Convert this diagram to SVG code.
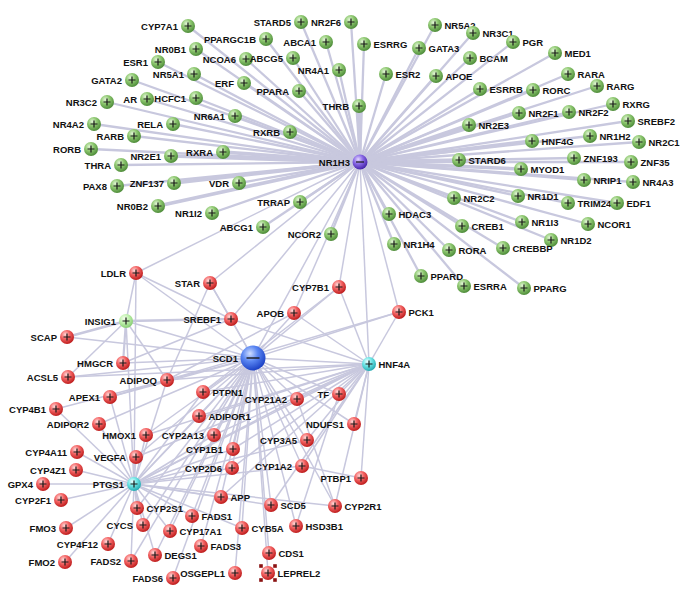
<svg xmlns="http://www.w3.org/2000/svg" width="683" height="595" viewBox="0 0 683 595">
<defs>
<radialGradient id="gG" cx="0.38" cy="0.32" r="0.7"><stop offset="0" stop-color="#e2f6d6"/><stop offset="0.45" stop-color="#8ec870"/><stop offset="1" stop-color="#4c8a38"/></radialGradient>
<radialGradient id="gR" cx="0.38" cy="0.32" r="0.7"><stop offset="0" stop-color="#ffd8d8"/><stop offset="0.45" stop-color="#f46464"/><stop offset="1" stop-color="#bc1a1a"/></radialGradient>
<radialGradient id="gC" cx="0.38" cy="0.32" r="0.7"><stop offset="0" stop-color="#eaffff"/><stop offset="0.45" stop-color="#6fe6e6"/><stop offset="1" stop-color="#22a9b0"/></radialGradient>
<radialGradient id="gL" cx="0.38" cy="0.32" r="0.7"><stop offset="0" stop-color="#f6fff0"/><stop offset="0.45" stop-color="#c2f2b0"/><stop offset="1" stop-color="#86cc72"/></radialGradient>
<radialGradient id="gP" cx="0.38" cy="0.32" r="0.7"><stop offset="0" stop-color="#e2d6ff"/><stop offset="0.45" stop-color="#8a6ae6"/><stop offset="1" stop-color="#4422a8"/></radialGradient>
<radialGradient id="gB" cx="0.38" cy="0.32" r="0.7"><stop offset="0" stop-color="#d0deff"/><stop offset="0.45" stop-color="#5a86f2"/><stop offset="1" stop-color="#1a3fc4"/></radialGradient>
<path id="plus" d="M-3.5,0H3.5M0,-3.5V3.5" stroke="#1a1a1a" stroke-width="1.2" fill="none"/>
<path id="minus" d="M-4,0H4" stroke="#1a1a1a" stroke-width="1.2" fill="none"/>
<path id="minusB" d="M-6.5,0H6.5" stroke="#1a1a1a" stroke-width="1.4" fill="none"/>
<rect id="hdl" x="-1.8" y="-1.8" width="3.6" height="3.6" fill="#8a1212"/>
</defs>
<style>
.e line{stroke:#c8c8de;stroke-width:1.5}
.eg line{stroke:#c8c8de;stroke-width:2.3}
.eg line.w{stroke-width:3.6}
.g{fill:url(#gG)}.r{fill:url(#gR)}.c{fill:url(#gC)}.lg{fill:url(#gL)}.p{fill:url(#gP)}.b{fill:url(#gB)}
text{font-family:"Liberation Sans",Arial,sans-serif;font-weight:bold;font-size:9.5px;fill:#111}
.l{text-anchor:end}
</style>
<rect width="683" height="595" fill="#ffffff"/>
<g id="connectors">
<g class="eg">
<line x1="188" y1="26" x2="360" y2="162"/><line x1="266" y1="39" x2="360" y2="162"/><line x1="196" y1="49" x2="360" y2="162"/><line x1="246" y1="59" x2="360" y2="162"/><line x1="293" y1="58" x2="360" y2="162"/><line x1="301" y1="22" x2="360" y2="162"/><line x1="351" y1="22" x2="360" y2="162"/><line x1="326" y1="42" x2="360" y2="162"/><line x1="364" y1="44" x2="360" y2="162"/><line x1="339" y1="70" x2="360" y2="162"/><line x1="386" y1="74" x2="360" y2="162"/><line x1="419" y1="48" x2="360" y2="162"/><line x1="435" y1="25" x2="360" y2="162"/><line x1="436" y1="76" x2="360" y2="162"/><line x1="299" y1="91" x2="360" y2="162"/><line class="w" x1="359" y1="106" x2="360" y2="162"/><line x1="244" y1="83" x2="360" y2="162"/><line x1="194" y1="74" x2="360" y2="162"/><line x1="158" y1="62" x2="360" y2="162"/><line x1="132" y1="80" x2="360" y2="162"/><line x1="147" y1="99" x2="360" y2="162"/><line x1="196" y1="98" x2="360" y2="162"/><line x1="107" y1="102" x2="360" y2="162"/><line x1="235" y1="116" x2="360" y2="162"/><line x1="94" y1="124" x2="360" y2="162"/><line x1="173" y1="124" x2="360" y2="162"/><line x1="290" y1="132" x2="360" y2="162"/><line x1="134" y1="136" x2="360" y2="162"/><line x1="91" y1="149" x2="360" y2="162"/><line class="w" x1="171" y1="156" x2="360" y2="162"/><line class="w" x1="223" y1="152" x2="360" y2="162"/><line x1="121" y1="165" x2="360" y2="162"/><line class="w" x1="174" y1="183" x2="360" y2="162"/><line x1="239" y1="183" x2="360" y2="162"/><line x1="117" y1="186" x2="360" y2="162"/><line class="w" x1="158" y1="206" x2="360" y2="162"/><line x1="212" y1="213" x2="360" y2="162"/><line x1="300" y1="202" x2="360" y2="162"/><line x1="263" y1="227" x2="360" y2="162"/><line x1="331" y1="234" x2="360" y2="162"/><line x1="389" y1="214" x2="360" y2="162"/><line x1="394" y1="244" x2="360" y2="162"/><line x1="473" y1="33" x2="360" y2="162"/><line x1="513" y1="42" x2="360" y2="162"/><line x1="470" y1="58" x2="360" y2="162"/><line x1="555" y1="53" x2="360" y2="162"/><line x1="568" y1="74" x2="360" y2="162"/><line x1="480" y1="89" x2="360" y2="162"/><line x1="533" y1="90" x2="360" y2="162"/><line x1="597" y1="86" x2="360" y2="162"/><line x1="613" y1="104" x2="360" y2="162"/><line x1="519" y1="113" x2="360" y2="162"/><line x1="569" y1="112" x2="360" y2="162"/><line x1="628" y1="121" x2="360" y2="162"/><line class="w" x1="469" y1="125" x2="360" y2="162"/><line class="w" x1="532" y1="141" x2="360" y2="162"/><line x1="590" y1="136" x2="360" y2="162"/><line x1="639" y1="142" x2="360" y2="162"/><line class="w" x1="459" y1="160" x2="360" y2="162"/><line x1="574" y1="158" x2="360" y2="162"/><line x1="631" y1="162" x2="360" y2="162"/><line class="w" x1="521" y1="169" x2="360" y2="162"/><line x1="584" y1="180" x2="360" y2="162"/><line x1="633" y1="182" x2="360" y2="162"/><line x1="454" y1="198" x2="360" y2="162"/><line x1="518" y1="196" x2="360" y2="162"/><line x1="568" y1="203" x2="360" y2="162"/><line x1="617" y1="203" x2="360" y2="162"/><line x1="462" y1="226" x2="360" y2="162"/><line x1="522" y1="222" x2="360" y2="162"/><line x1="588" y1="224" x2="360" y2="162"/><line x1="551" y1="240" x2="360" y2="162"/><line x1="449" y1="250" x2="360" y2="162"/><line x1="503" y1="248" x2="360" y2="162"/><line x1="421" y1="276" x2="360" y2="162"/><line x1="464" y1="286" x2="360" y2="162"/><line x1="524" y1="288" x2="360" y2="162"/>
</g>
<g class="e">
<line x1="136" y1="273" x2="360" y2="162"/><line x1="210" y1="283" x2="360" y2="162"/><line x1="231" y1="319" x2="360" y2="162"/><line x1="253" y1="358" x2="360" y2="162"/><line x1="294" y1="313" x2="360" y2="162"/><line x1="339" y1="287" x2="360" y2="162"/><line x1="369" y1="364" x2="360" y2="162"/><line x1="399" y1="312" x2="360" y2="162"/>
<line x1="253" y1="358" x2="136" y2="273"/><line x1="253" y1="358" x2="210" y2="283"/><line x1="253" y1="358" x2="231" y2="319"/><line x1="253" y1="358" x2="126" y2="321"/><line x1="253" y1="358" x2="67" y2="337"/><line x1="253" y1="358" x2="123" y2="363"/><line x1="253" y1="358" x2="68" y2="377"/><line x1="253" y1="358" x2="167" y2="380"/><line x1="253" y1="358" x2="203" y2="392"/><line x1="253" y1="358" x2="110" y2="397"/><line x1="253" y1="358" x2="99" y2="424"/><line x1="253" y1="358" x2="146" y2="435"/><line x1="253" y1="358" x2="136" y2="457"/><line x1="253" y1="358" x2="199" y2="416"/><line x1="253" y1="358" x2="214" y2="435"/><line x1="253" y1="358" x2="233" y2="449"/><line x1="253" y1="358" x2="232" y2="468"/><line x1="253" y1="358" x2="297" y2="399"/><line x1="253" y1="358" x2="339" y2="394"/><line x1="253" y1="358" x2="307" y2="440"/><line x1="253" y1="358" x2="302" y2="466"/><line x1="253" y1="358" x2="354" y2="424"/><line x1="253" y1="358" x2="221" y2="497"/><line x1="253" y1="358" x2="271" y2="505"/><line x1="253" y1="358" x2="242" y2="528"/><line x1="253" y1="358" x2="296" y2="526"/><line x1="253" y1="358" x2="269" y2="553"/><line x1="253" y1="358" x2="268" y2="573"/><line x1="253" y1="358" x2="192" y2="516"/><line x1="253" y1="358" x2="131" y2="561"/><line x1="253" y1="358" x2="201" y2="546"/><line x1="253" y1="358" x2="173" y2="578"/><line x1="253" y1="358" x2="155" y2="555"/><line x1="253" y1="358" x2="235" y2="573"/><line x1="253" y1="358" x2="170" y2="531"/><line x1="253" y1="358" x2="143" y2="525"/><line x1="253" y1="358" x2="137" y2="508"/><line x1="253" y1="358" x2="369" y2="364"/><line x1="253" y1="358" x2="294" y2="313"/><line x1="253" y1="358" x2="339" y2="287"/><line x1="253" y1="358" x2="134" y2="484"/><line x1="253" y1="358" x2="335" y2="506"/><line x1="253" y1="358" x2="399" y2="312"/>
<line x1="369" y1="364" x2="294" y2="313"/><line x1="369" y1="364" x2="339" y2="287"/><line x1="369" y1="364" x2="399" y2="312"/><line x1="369" y1="364" x2="231" y2="319"/><line x1="369" y1="364" x2="339" y2="394"/><line x1="369" y1="364" x2="297" y2="399"/><line x1="369" y1="364" x2="354" y2="424"/><line x1="369" y1="364" x2="307" y2="440"/><line x1="369" y1="364" x2="302" y2="466"/><line x1="369" y1="364" x2="361" y2="478"/><line x1="369" y1="364" x2="167" y2="380"/><line x1="369" y1="364" x2="203" y2="392"/><line x1="369" y1="364" x2="199" y2="416"/><line x1="369" y1="364" x2="214" y2="435"/><line x1="369" y1="364" x2="233" y2="449"/><line x1="369" y1="364" x2="232" y2="468"/><line x1="369" y1="364" x2="221" y2="497"/><line x1="369" y1="364" x2="134" y2="484"/><line x1="369" y1="364" x2="136" y2="457"/><line x1="369" y1="364" x2="146" y2="435"/><line x1="369" y1="364" x2="335" y2="506"/><line x1="369" y1="364" x2="271" y2="505"/><line x1="369" y1="364" x2="68" y2="377"/>
<line x1="134" y1="484" x2="136" y2="273"/><line x1="134" y1="484" x2="126" y2="321"/><line x1="134" y1="484" x2="56" y2="409"/><line x1="134" y1="484" x2="99" y2="424"/><line x1="134" y1="484" x2="110" y2="397"/><line x1="134" y1="484" x2="146" y2="435"/><line x1="134" y1="484" x2="77" y2="452"/><line x1="134" y1="484" x2="136" y2="457"/><line x1="134" y1="484" x2="76" y2="470"/><line x1="134" y1="484" x2="43" y2="484"/><line x1="134" y1="484" x2="61" y2="500"/><line x1="134" y1="484" x2="66" y2="528"/><line x1="134" y1="484" x2="65" y2="562"/><line x1="134" y1="484" x2="108" y2="544"/><line x1="134" y1="484" x2="143" y2="525"/><line x1="134" y1="484" x2="137" y2="508"/><line x1="134" y1="484" x2="192" y2="516"/><line x1="134" y1="484" x2="170" y2="531"/><line x1="134" y1="484" x2="131" y2="561"/><line x1="134" y1="484" x2="167" y2="380"/><line x1="134" y1="484" x2="233" y2="449"/><line x1="134" y1="484" x2="232" y2="468"/><line x1="134" y1="484" x2="214" y2="435"/><line x1="134" y1="484" x2="302" y2="466"/><line x1="134" y1="484" x2="307" y2="440"/><line x1="134" y1="484" x2="297" y2="399"/><line x1="134" y1="484" x2="335" y2="506"/><line x1="134" y1="484" x2="271" y2="505"/><line x1="134" y1="484" x2="221" y2="497"/><line x1="134" y1="484" x2="242" y2="528"/><line x1="134" y1="484" x2="203" y2="392"/><line x1="134" y1="484" x2="199" y2="416"/><line x1="134" y1="484" x2="155" y2="555"/>
<line x1="126" y1="321" x2="136" y2="273"/><line x1="126" y1="321" x2="67" y2="337" style="stroke-width:2.6"/><line x1="126" y1="321" x2="123" y2="363" style="stroke-width:2.2"/><line x1="126" y1="321" x2="231" y2="319" style="stroke-width:2.6"/><line x1="126" y1="321" x2="68" y2="377"/><line x1="126" y1="321" x2="167" y2="380"/>
<line x1="210" y1="283" x2="231" y2="319"/><line x1="210" y1="283" x2="167" y2="380"/><line x1="136" y1="273" x2="231" y2="319"/><line x1="231" y1="319" x2="123" y2="363"/><line x1="56" y1="409" x2="167" y2="380"/><line x1="110" y1="397" x2="167" y2="380"/><line x1="294" y1="313" x2="167" y2="380"/><line x1="339" y1="287" x2="203" y2="392"/><line x1="399" y1="312" x2="167" y2="380"/><line x1="297" y1="399" x2="335" y2="506"/><line x1="339" y1="394" x2="296" y2="526"/><line x1="361" y1="478" x2="302" y2="466"/>
</g>
</g>
<g id="nodes">
<g id="n-CYP7A1"><circle class="g" cx="188" cy="26" r="7"/><use href="#plus" x="188" y="26"/><text class="l" x="178" y="29.5">CYP7A1</text></g>
<g id="n-PPARGC1B"><circle class="g" cx="266" cy="39" r="7"/><use href="#plus" x="266" y="39"/><text class="l" x="256" y="42.5">PPARGC1B</text></g>
<g id="n-NR0B1"><circle class="g" cx="196" cy="49" r="7"/><use href="#plus" x="196" y="49"/><text class="l" x="186" y="52.5">NR0B1</text></g>
<g id="n-NCOA6"><circle class="g" cx="246" cy="59" r="7"/><use href="#plus" x="246" y="59"/><text class="l" x="236" y="62.5">NCOA6</text></g>
<g id="n-ABCG5"><circle class="g" cx="293" cy="58" r="7"/><use href="#plus" x="293" y="58"/><text class="l" x="283" y="61.5">ABCG5</text></g>
<g id="n-STARD5"><circle class="g" cx="301" cy="22" r="7"/><use href="#plus" x="301" y="22"/><text class="l" x="291" y="25.5">STARD5</text></g>
<g id="n-NR2F6"><circle class="g" cx="351" cy="22" r="7"/><use href="#plus" x="351" y="22"/><text class="l" x="341" y="25.5">NR2F6</text></g>
<g id="n-ABCA1"><circle class="g" cx="326" cy="42" r="7"/><use href="#plus" x="326" y="42"/><text class="l" x="316" y="45.5">ABCA1</text></g>
<g id="n-ESRRG"><circle class="g" cx="364" cy="44" r="7"/><use href="#plus" x="364" y="44"/><text x="373.5" y="47.5">ESRRG</text></g>
<g id="n-NR4A1"><circle class="g" cx="339" cy="70" r="7"/><use href="#plus" x="339" y="70"/><text class="l" x="329" y="73.5">NR4A1</text></g>
<g id="n-ESR2"><circle class="g" cx="386" cy="74" r="7"/><use href="#plus" x="386" y="74"/><text x="395.5" y="77.5">ESR2</text></g>
<g id="n-GATA3"><circle class="g" cx="419" cy="48" r="7"/><use href="#plus" x="419" y="48"/><text x="428.5" y="51.5">GATA3</text></g>
<g id="n-NR5A2"><circle class="g" cx="435" cy="25" r="7"/><use href="#plus" x="435" y="25"/><text x="444.5" y="28.5">NR5A2</text></g>
<g id="n-APOE"><circle class="g" cx="436" cy="76" r="7"/><use href="#plus" x="436" y="76"/><text x="445.5" y="79.5">APOE</text></g>
<g id="n-PPARA"><circle class="g" cx="299" cy="91" r="7"/><use href="#plus" x="299" y="91"/><text class="l" x="289" y="94.5">PPARA</text></g>
<g id="n-THRB"><circle class="g" cx="359" cy="106" r="7"/><use href="#plus" x="359" y="106"/><text class="l" x="349" y="109.5">THRB</text></g>
<g id="n-ERF"><circle class="g" cx="244" cy="83" r="7"/><use href="#plus" x="244" y="83"/><text class="l" x="234" y="86.5">ERF</text></g>
<g id="n-NR5A1"><circle class="g" cx="194" cy="74" r="7"/><use href="#plus" x="194" y="74"/><text class="l" x="184" y="77.5">NR5A1</text></g>
<g id="n-ESR1"><circle class="g" cx="158" cy="62" r="7"/><use href="#plus" x="158" y="62"/><text class="l" x="148" y="65.5">ESR1</text></g>
<g id="n-GATA2"><circle class="g" cx="132" cy="80" r="7"/><use href="#plus" x="132" y="80"/><text class="l" x="122" y="83.5">GATA2</text></g>
<g id="n-AR"><circle class="g" cx="147" cy="99" r="7"/><use href="#plus" x="147" y="99"/><text class="l" x="137" y="102.5">AR</text></g>
<g id="n-HCFC1"><circle class="g" cx="196" cy="98" r="7"/><use href="#plus" x="196" y="98"/><text class="l" x="186" y="101.5">HCFC1</text></g>
<g id="n-NR3C2"><circle class="g" cx="107" cy="102" r="7"/><use href="#plus" x="107" y="102"/><text class="l" x="97" y="105.5">NR3C2</text></g>
<g id="n-NR6A1"><circle class="g" cx="235" cy="116" r="7"/><use href="#plus" x="235" y="116"/><text class="l" x="225" y="119.5">NR6A1</text></g>
<g id="n-NR4A2"><circle class="g" cx="94" cy="124" r="7"/><use href="#plus" x="94" y="124"/><text class="l" x="84" y="127.5">NR4A2</text></g>
<g id="n-RELA"><circle class="g" cx="173" cy="124" r="7"/><use href="#plus" x="173" y="124"/><text class="l" x="163" y="127.5">RELA</text></g>
<g id="n-RXRB"><circle class="g" cx="290" cy="132" r="7"/><use href="#plus" x="290" y="132"/><text class="l" x="280" y="135.5">RXRB</text></g>
<g id="n-RARB"><circle class="g" cx="134" cy="136" r="7"/><use href="#plus" x="134" y="136"/><text class="l" x="124" y="139.5">RARB</text></g>
<g id="n-RORB"><circle class="g" cx="91" cy="149" r="7"/><use href="#plus" x="91" y="149"/><text class="l" x="81" y="152.5">RORB</text></g>
<g id="n-NR2E1"><circle class="g" cx="171" cy="156" r="7"/><use href="#plus" x="171" y="156"/><text class="l" x="161" y="159.5">NR2E1</text></g>
<g id="n-RXRA"><circle class="g" cx="223" cy="152" r="7"/><use href="#plus" x="223" y="152"/><text class="l" x="213" y="155.5">RXRA</text></g>
<g id="n-THRA"><circle class="g" cx="121" cy="165" r="7"/><use href="#plus" x="121" y="165"/><text class="l" x="111" y="168.5">THRA</text></g>
<g id="n-ZNF137"><circle class="g" cx="174" cy="183" r="7"/><use href="#plus" x="174" y="183"/><text class="l" x="164" y="186.5">ZNF137</text></g>
<g id="n-VDR"><circle class="g" cx="239" cy="183" r="7"/><use href="#plus" x="239" y="183"/><text class="l" x="229" y="186.5">VDR</text></g>
<g id="n-PAX8"><circle class="g" cx="117" cy="186" r="7"/><use href="#plus" x="117" y="186"/><text class="l" x="107" y="189.5">PAX8</text></g>
<g id="n-NR0B2"><circle class="g" cx="158" cy="206" r="7"/><use href="#plus" x="158" y="206"/><text class="l" x="148" y="209.5">NR0B2</text></g>
<g id="n-NR1I2"><circle class="g" cx="212" cy="213" r="7"/><use href="#plus" x="212" y="213"/><text class="l" x="202" y="216.5">NR1I2</text></g>
<g id="n-TRRAP"><circle class="g" cx="300" cy="202" r="7"/><use href="#plus" x="300" y="202"/><text class="l" x="290" y="205.5">TRRAP</text></g>
<g id="n-ABCG1"><circle class="g" cx="263" cy="227" r="7"/><use href="#plus" x="263" y="227"/><text class="l" x="253" y="230.5">ABCG1</text></g>
<g id="n-NCOR2"><circle class="g" cx="331" cy="234" r="7"/><use href="#plus" x="331" y="234"/><text class="l" x="321" y="237.5">NCOR2</text></g>
<g id="n-HDAC3"><circle class="g" cx="389" cy="214" r="7"/><use href="#plus" x="389" y="214"/><text x="398.5" y="217.5">HDAC3</text></g>
<g id="n-NR1H4"><circle class="g" cx="394" cy="244" r="7"/><use href="#plus" x="394" y="244"/><text x="403.5" y="247.5">NR1H4</text></g>
<g id="n-NR3C1"><circle class="g" cx="473" cy="33" r="7"/><use href="#plus" x="473" y="33"/><text x="482.5" y="36.5">NR3C1</text></g>
<g id="n-PGR"><circle class="g" cx="513" cy="42" r="7"/><use href="#plus" x="513" y="42"/><text x="522.5" y="45.5">PGR</text></g>
<g id="n-BCAM"><circle class="g" cx="470" cy="58" r="7"/><use href="#plus" x="470" y="58"/><text x="479.5" y="61.5">BCAM</text></g>
<g id="n-MED1"><circle class="g" cx="555" cy="53" r="7"/><use href="#plus" x="555" y="53"/><text x="564.5" y="56.5">MED1</text></g>
<g id="n-RARA"><circle class="g" cx="568" cy="74" r="7"/><use href="#plus" x="568" y="74"/><text x="577.5" y="77.5">RARA</text></g>
<g id="n-ESRRB"><circle class="g" cx="480" cy="89" r="7"/><use href="#plus" x="480" y="89"/><text x="489.5" y="92.5">ESRRB</text></g>
<g id="n-RORC"><circle class="g" cx="533" cy="90" r="7"/><use href="#plus" x="533" y="90"/><text x="542.5" y="93.5">RORC</text></g>
<g id="n-RARG"><circle class="g" cx="597" cy="86" r="7"/><use href="#plus" x="597" y="86"/><text x="606.5" y="89.5">RARG</text></g>
<g id="n-RXRG"><circle class="g" cx="613" cy="104" r="7"/><use href="#plus" x="613" y="104"/><text x="622.5" y="107.5">RXRG</text></g>
<g id="n-NR2F1"><circle class="g" cx="519" cy="113" r="7"/><use href="#plus" x="519" y="113"/><text x="528.5" y="116.5">NR2F1</text></g>
<g id="n-NR2F2"><circle class="g" cx="569" cy="112" r="7"/><use href="#plus" x="569" y="112"/><text x="578.5" y="115.5">NR2F2</text></g>
<g id="n-SREBF2"><circle class="g" cx="628" cy="121" r="7"/><use href="#plus" x="628" y="121"/><text x="637.5" y="124.5">SREBF2</text></g>
<g id="n-NR2E3"><circle class="g" cx="469" cy="125" r="7"/><use href="#plus" x="469" y="125"/><text x="478.5" y="128.5">NR2E3</text></g>
<g id="n-HNF4G"><circle class="g" cx="532" cy="141" r="7"/><use href="#plus" x="532" y="141"/><text x="541.5" y="144.5">HNF4G</text></g>
<g id="n-NR1H2"><circle class="g" cx="590" cy="136" r="7"/><use href="#plus" x="590" y="136"/><text x="599.5" y="139.5">NR1H2</text></g>
<g id="n-NR2C1"><circle class="g" cx="639" cy="142" r="7"/><use href="#plus" x="639" y="142"/><text x="648.5" y="145.5">NR2C1</text></g>
<g id="n-STARD6"><circle class="g" cx="459" cy="160" r="7"/><use href="#plus" x="459" y="160"/><text x="468.5" y="163.5">STARD6</text></g>
<g id="n-ZNF193"><circle class="g" cx="574" cy="158" r="7"/><use href="#plus" x="574" y="158"/><text x="583.5" y="161.5">ZNF193</text></g>
<g id="n-ZNF35"><circle class="g" cx="631" cy="162" r="7"/><use href="#plus" x="631" y="162"/><text x="640.5" y="165.5">ZNF35</text></g>
<g id="n-MYOD1"><circle class="g" cx="521" cy="169" r="7"/><use href="#plus" x="521" y="169"/><text x="530.5" y="172.5">MYOD1</text></g>
<g id="n-NRIP1"><circle class="g" cx="584" cy="180" r="7"/><use href="#plus" x="584" y="180"/><text x="593.5" y="183.5">NRIP1</text></g>
<g id="n-NR4A3"><circle class="g" cx="633" cy="182" r="7"/><use href="#plus" x="633" y="182"/><text x="642.5" y="185.5">NR4A3</text></g>
<g id="n-NR2C2"><circle class="g" cx="454" cy="198" r="7"/><use href="#plus" x="454" y="198"/><text x="463.5" y="201.5">NR2C2</text></g>
<g id="n-NR1D1"><circle class="g" cx="518" cy="196" r="7"/><use href="#plus" x="518" y="196"/><text x="527.5" y="199.5">NR1D1</text></g>
<g id="n-TRIM24"><circle class="g" cx="568" cy="203" r="7"/><use href="#plus" x="568" y="203"/><text x="577.5" y="206.5">TRIM24</text></g>
<g id="n-EDF1"><circle class="g" cx="617" cy="203" r="7"/><use href="#plus" x="617" y="203"/><text x="626.5" y="206.5">EDF1</text></g>
<g id="n-CREB1"><circle class="g" cx="462" cy="226" r="7"/><use href="#plus" x="462" y="226"/><text x="471.5" y="229.5">CREB1</text></g>
<g id="n-NR1I3"><circle class="g" cx="522" cy="222" r="7"/><use href="#plus" x="522" y="222"/><text x="531.5" y="225.5">NR1I3</text></g>
<g id="n-NCOR1"><circle class="g" cx="588" cy="224" r="7"/><use href="#plus" x="588" y="224"/><text x="597.5" y="227.5">NCOR1</text></g>
<g id="n-NR1D2"><circle class="g" cx="551" cy="240" r="7"/><use href="#plus" x="551" y="240"/><text x="560.5" y="243.5">NR1D2</text></g>
<g id="n-RORA"><circle class="g" cx="449" cy="250" r="7"/><use href="#plus" x="449" y="250"/><text x="458.5" y="253.5">RORA</text></g>
<g id="n-CREBBP"><circle class="g" cx="503" cy="248" r="7"/><use href="#plus" x="503" y="248"/><text x="512.5" y="251.5">CREBBP</text></g>
<g id="n-PPARD"><circle class="g" cx="421" cy="276" r="7"/><use href="#plus" x="421" y="276"/><text x="430.5" y="279.5">PPARD</text></g>
<g id="n-ESRRA"><circle class="g" cx="464" cy="286" r="7"/><use href="#plus" x="464" y="286"/><text x="473.5" y="289.5">ESRRA</text></g>
<g id="n-PPARG"><circle class="g" cx="524" cy="288" r="7"/><use href="#plus" x="524" y="288"/><text x="533.5" y="291.5">PPARG</text></g>
<g id="n-NR1H3"><circle class="p" cx="360" cy="162" r="7.5"/><use href="#minus" x="360" y="162"/><text class="l" x="350" y="165.5">NR1H3</text></g>
<g id="n-LDLR"><circle class="r" cx="136" cy="273" r="7"/><use href="#plus" x="136" y="273"/><text class="l" x="126" y="276.5">LDLR</text></g>
<g id="n-STAR"><circle class="r" cx="210" cy="283" r="7"/><use href="#plus" x="210" y="283"/><text class="l" x="200" y="286.5">STAR</text></g>
<g id="n-INSIG1"><circle class="lg" cx="126" cy="321" r="7"/><use href="#plus" x="126" y="321"/><text class="l" x="116" y="324.5">INSIG1</text></g>
<g id="n-SREBF1"><circle class="r" cx="231" cy="319" r="7"/><use href="#plus" x="231" y="319"/><text class="l" x="221" y="322.5">SREBF1</text></g>
<g id="n-SCAP"><circle class="r" cx="67" cy="337" r="7"/><use href="#plus" x="67" y="337"/><text class="l" x="57" y="340.5">SCAP</text></g>
<g id="n-SCD1"><circle class="b" cx="253" cy="358" r="12.5"/><use href="#minusB" x="253" y="358"/><text class="l" x="238" y="361.5">SCD1</text></g>
<g id="n-HMGCR"><circle class="r" cx="123" cy="363" r="7"/><use href="#plus" x="123" y="363"/><text class="l" x="113" y="366.5">HMGCR</text></g>
<g id="n-ACSL5"><circle class="r" cx="68" cy="377" r="7"/><use href="#plus" x="68" y="377"/><text class="l" x="58" y="380.5">ACSL5</text></g>
<g id="n-ADIPOQ"><circle class="r" cx="167" cy="380" r="7"/><use href="#plus" x="167" y="380"/><text class="l" x="157" y="383.5">ADIPOQ</text></g>
<g id="n-PTPN1"><circle class="r" cx="203" cy="392" r="7"/><use href="#plus" x="203" y="392"/><text x="212.5" y="395.5">PTPN1</text></g>
<g id="n-APEX1"><circle class="r" cx="110" cy="397" r="7"/><use href="#plus" x="110" y="397"/><text class="l" x="100" y="400.5">APEX1</text></g>
<g id="n-CYP7B1"><circle class="r" cx="339" cy="287" r="7"/><use href="#plus" x="339" y="287"/><text class="l" x="329" y="290.5">CYP7B1</text></g>
<g id="n-APOB"><circle class="r" cx="294" cy="313" r="7"/><use href="#plus" x="294" y="313"/><text class="l" x="284" y="316.5">APOB</text></g>
<g id="n-PCK1"><circle class="r" cx="399" cy="312" r="7"/><use href="#plus" x="399" y="312"/><text x="408.5" y="315.5">PCK1</text></g>
<g id="n-HNF4A"><circle class="c" cx="369" cy="364" r="7"/><use href="#plus" x="369" y="364"/><text x="378.5" y="367.5">HNF4A</text></g>
<g id="n-TF"><circle class="r" cx="339" cy="394" r="7"/><use href="#plus" x="339" y="394"/><text class="l" x="329" y="397.5">TF</text></g>
<g id="n-CYP21A2"><circle class="r" cx="297" cy="399" r="7"/><use href="#plus" x="297" y="399"/><text class="l" x="287" y="402.5">CYP21A2</text></g>
<g id="n-ADIPOR1"><circle class="r" cx="199" cy="416" r="7"/><use href="#plus" x="199" y="416"/><text x="208.5" y="419.5">ADIPOR1</text></g>
<g id="n-CYP2A13"><circle class="r" cx="214" cy="435" r="7"/><use href="#plus" x="214" y="435"/><text class="l" x="204" y="438.5">CYP2A13</text></g>
<g id="n-CYP1B1"><circle class="r" cx="233" cy="449" r="7"/><use href="#plus" x="233" y="449"/><text class="l" x="223" y="452.5">CYP1B1</text></g>
<g id="n-CYP2D6"><circle class="r" cx="232" cy="468" r="7"/><use href="#plus" x="232" y="468"/><text class="l" x="222" y="471.5">CYP2D6</text></g>
<g id="n-NDUFS1"><circle class="r" cx="354" cy="424" r="7"/><use href="#plus" x="354" y="424"/><text class="l" x="344" y="427.5">NDUFS1</text></g>
<g id="n-CYP3A5"><circle class="r" cx="307" cy="440" r="7"/><use href="#plus" x="307" y="440"/><text class="l" x="297" y="443.5">CYP3A5</text></g>
<g id="n-CYP1A2"><circle class="r" cx="302" cy="466" r="7"/><use href="#plus" x="302" y="466"/><text class="l" x="292" y="469.5">CYP1A2</text></g>
<g id="n-PTBP1"><circle class="r" cx="361" cy="478" r="7"/><use href="#plus" x="361" y="478"/><text class="l" x="351" y="481.5">PTBP1</text></g>
<g id="n-CYP4B1"><circle class="r" cx="56" cy="409" r="7"/><use href="#plus" x="56" y="409"/><text class="l" x="46" y="412.5">CYP4B1</text></g>
<g id="n-ADIPOR2"><circle class="r" cx="99" cy="424" r="7"/><use href="#plus" x="99" y="424"/><text class="l" x="89" y="427.5">ADIPOR2</text></g>
<g id="n-HMOX1"><circle class="r" cx="146" cy="435" r="7"/><use href="#plus" x="146" y="435"/><text class="l" x="136" y="438.5">HMOX1</text></g>
<g id="n-CYP4A11"><circle class="r" cx="77" cy="452" r="7"/><use href="#plus" x="77" y="452"/><text class="l" x="67" y="455.5">CYP4A11</text></g>
<g id="n-VEGFA"><circle class="r" cx="136" cy="457" r="7"/><use href="#plus" x="136" y="457"/><text class="l" x="126" y="460.5">VEGFA</text></g>
<g id="n-CYP4Z1"><circle class="r" cx="76" cy="470" r="7"/><use href="#plus" x="76" y="470"/><text class="l" x="66" y="473.5">CYP4Z1</text></g>
<g id="n-GPX4"><circle class="r" cx="43" cy="484" r="7"/><use href="#plus" x="43" y="484"/><text class="l" x="33" y="487.5">GPX4</text></g>
<g id="n-PTGS1"><circle class="c" cx="134" cy="484" r="7"/><use href="#plus" x="134" y="484"/><text class="l" x="124" y="487.5">PTGS1</text></g>
<g id="n-CYP2F1"><circle class="r" cx="61" cy="500" r="7"/><use href="#plus" x="61" y="500"/><text class="l" x="51" y="503.5">CYP2F1</text></g>
<g id="n-CYP2S1"><circle class="r" cx="137" cy="508" r="7"/><use href="#plus" x="137" y="508"/><text x="146.5" y="511.5">CYP2S1</text></g>
<g id="n-FADS1"><circle class="r" cx="192" cy="516" r="7"/><use href="#plus" x="192" y="516"/><text x="201.5" y="519.5">FADS1</text></g>
<g id="n-CYCS"><circle class="r" cx="143" cy="525" r="7"/><use href="#plus" x="143" y="525"/><text class="l" x="133" y="528.5">CYCS</text></g>
<g id="n-FMO3"><circle class="r" cx="66" cy="528" r="7"/><use href="#plus" x="66" y="528"/><text class="l" x="56" y="531.5">FMO3</text></g>
<g id="n-CYP17A1"><circle class="r" cx="170" cy="531" r="7"/><use href="#plus" x="170" y="531"/><text x="179.5" y="534.5">CYP17A1</text></g>
<g id="n-CYP4F12"><circle class="r" cx="108" cy="544" r="7"/><use href="#plus" x="108" y="544"/><text class="l" x="98" y="547.5">CYP4F12</text></g>
<g id="n-FADS3"><circle class="r" cx="201" cy="546" r="7"/><use href="#plus" x="201" y="546"/><text x="210.5" y="549.5">FADS3</text></g>
<g id="n-DEGS1"><circle class="r" cx="155" cy="555" r="7"/><use href="#plus" x="155" y="555"/><text x="164.5" y="558.5">DEGS1</text></g>
<g id="n-FADS2"><circle class="r" cx="131" cy="561" r="7"/><use href="#plus" x="131" y="561"/><text class="l" x="121" y="564.5">FADS2</text></g>
<g id="n-FMO2"><circle class="r" cx="65" cy="562" r="7"/><use href="#plus" x="65" y="562"/><text class="l" x="55" y="565.5">FMO2</text></g>
<g id="n-FADS6"><circle class="r" cx="173" cy="578" r="7"/><use href="#plus" x="173" y="578"/><text class="l" x="163" y="581.5">FADS6</text></g>
<g id="n-OSGEPL1"><circle class="r" cx="235" cy="573" r="7"/><use href="#plus" x="235" y="573"/><text class="l" x="225" y="576.5">OSGEPL1</text></g>
<g id="n-APP"><circle class="r" cx="221" cy="497" r="7"/><use href="#plus" x="221" y="497"/><text x="230.5" y="500.5">APP</text></g>
<g id="n-SCD5"><circle class="r" cx="271" cy="505" r="7"/><use href="#plus" x="271" y="505"/><text x="280.5" y="508.5">SCD5</text></g>
<g id="n-CYP2R1"><circle class="r" cx="335" cy="506" r="7"/><use href="#plus" x="335" y="506"/><text x="344.5" y="509.5">CYP2R1</text></g>
<g id="n-CYB5A"><circle class="r" cx="242" cy="528" r="7"/><use href="#plus" x="242" y="528"/><text x="251.5" y="531.5">CYB5A</text></g>
<g id="n-HSD3B1"><circle class="r" cx="296" cy="526" r="7"/><use href="#plus" x="296" y="526"/><text x="305.5" y="529.5">HSD3B1</text></g>
<g id="n-CDS1"><circle class="r" cx="269" cy="553" r="7"/><use href="#plus" x="269" y="553"/><text x="278.5" y="556.5">CDS1</text></g>
<g id="n-LEPREL2"><circle class="r" cx="268" cy="573" r="7"/><use href="#plus" x="268" y="573"/><use href="#hdl" x="261" y="566"/><use href="#hdl" x="275" y="566"/><use href="#hdl" x="261" y="580"/><use href="#hdl" x="275" y="580"/><text x="277.5" y="576.5">LEPREL2</text></g>
</g>
</svg>
